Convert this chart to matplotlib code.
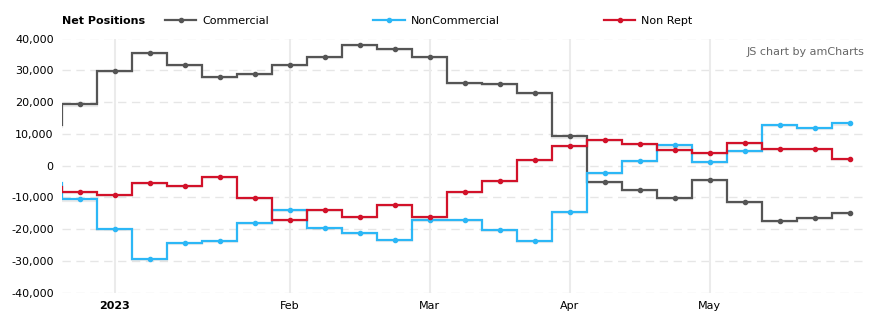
import matplotlib
matplotlib.use("Agg")
import matplotlib.pyplot as plt
import matplotlib.patheffects as pe
from matplotlib.lines import Line2D
from matplotlib.ticker import FuncFormatter

# weekly report dates (first one is just before the visible window)
dates = ["2022-12-20", "2022-12-27", "2023-01-03", "2023-01-10", "2023-01-17", "2023-01-24",
         "2023-01-31", "2023-02-07", "2023-02-14", "2023-02-21", "2023-02-28", "2023-03-07",
         "2023-03-14", "2023-03-21", "2023-03-28", "2023-04-04", "2023-04-11", "2023-04-18",
         "2023-04-25", "2023-05-02", "2023-05-09", "2023-05-16", "2023-05-23", "2023-05-30"]

commercial = [12760, 19400, 29860, 35530, 31750, 27970, 28910, 31750, 34270, 38050, 36790, 34270,
              26080, 25760, 22930, 9200, -5100, -7620, -10140, -4470, -11400, -17390, -16440, -14870]
noncommercial = [-5420, -10600, -19900, -29350, -24310, -23690, -18020, -13920, -19590, -21170, -23370, -17070,
                 -17070, -20220, -23690, -14550, -2270, 1510, 6360, 1200, 4660, 12850, 11900, 13390]
nonrept = [-6680, -8200, -9200, -5420, -6360, -3530, -10140, -17070, -13920, -16130, -12350, -16130,
           -8250, -4790, 1830, 6240, 8130, 6870, 4980, 4030, 7180, 5290, 5290, 2140]

series_names = ["Commercial", "NonCommercial", "Non Rept"]
colors = ["#555555", "#2cb7f6", "#d2122a"]

month_ticks = ["2023-01-03", "2023-02-07", "2023-03-07", "2023-04-04", "2023-05-02"]
month_labels = ["2023", "Feb", "Mar", "Apr", "May"]

y_ticks = [-40000, -30000, -20000, -10000, 0, 10000, 20000, 30000, 40000]

W, H = 880, 326
fig = plt.figure(figsize=(W / 100, H / 100), dpi=100)
ax = fig.add_axes([62 / W, 1 - 292.5 / H, (867 - 62) / W, (292.5 - 38.5) / H])

x = list(range(-1, len(dates) - 1))
shadow = [pe.SimpleLineShadow(offset=(0, -1.2), shadow_color="black", alpha=0.08), pe.Normal()]
handles = []
for vals, name, col in zip([commercial, noncommercial, nonrept], series_names, colors):
    ax.step(x, vals, where="mid", color=col, lw=1.6, solid_joinstyle="miter", zorder=3,
            path_effects=shadow)
    ax.plot(x, vals, ls="none", marker="o", ms=3.0, color=col, zorder=4)
    handles.append(Line2D([], [], color=col, lw=1.6, marker="o", ms=3.0))

ax.set_xlim(-0.5, len(dates) - 1.5)
ax.set_ylim(-40000, 40000)
ax.set_yticks(y_ticks)
ax.yaxis.set_major_formatter(FuncFormatter(lambda v, p: f"{int(v):,}"))

xt = [dates.index(d) - 1 for d in month_ticks]
ax.set_xticks(xt)
ax.set_xticklabels(month_labels)
ax.get_xticklabels()[0].set_fontweight("bold")

for s in ax.spines.values():
    s.set_visible(False)
ax.tick_params(axis="both", length=0, labelsize=8, colors="#000000")
ax.tick_params(axis="y", pad=6)
ax.tick_params(axis="x", pad=6)

for yv in y_ticks:
    ax.axhline(yv, color="#e6e6e6", lw=1.0, dashes=(6, 4), zorder=1)
for xv in xt:
    ax.axvline(xv, color="#ebebeb", lw=1.5, zorder=1)

fig.text(62 / W, 1 - 21 / H, "Net Positions", fontsize=8, fontweight="bold", va="center", ha="left")
fig.legend(handles=handles, labels=series_names, ncol=3, frameon=False, fontsize=8,
           loc="center left", bbox_to_anchor=(165 / W, 1 - 21 / H),
           handlelength=2.8, handletextpad=0.55, columnspacing=9.4, borderaxespad=0, borderpad=0)

ax.text(0.997, 0.945, "JS chart by amCharts", transform=ax.transAxes, ha="right", va="center",
        fontsize=8, color="#666666")

fig.savefig("out.png", dpi=100)
